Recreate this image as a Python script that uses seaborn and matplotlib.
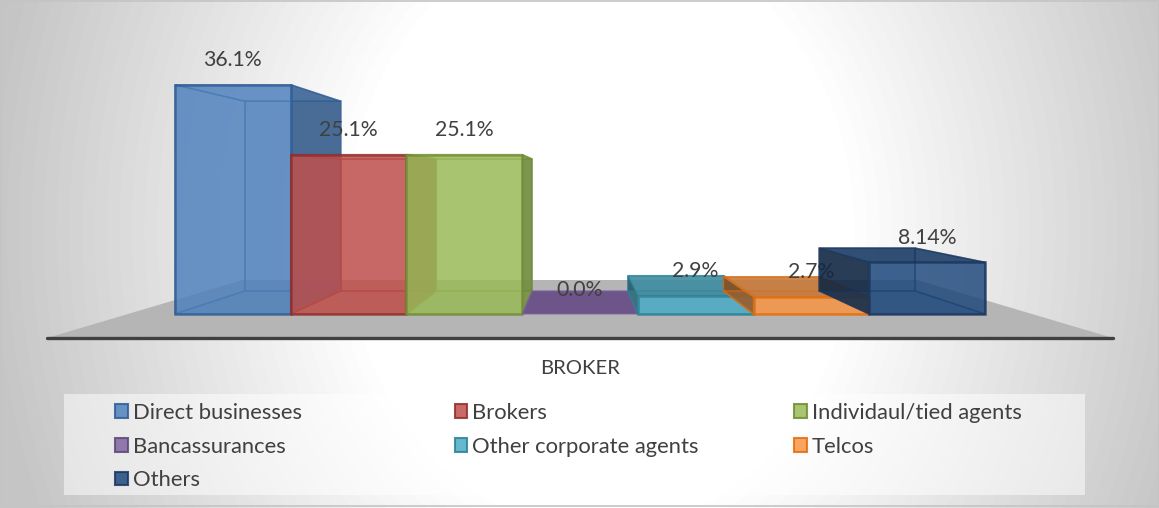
import numpy as np
import pandas as pd
import seaborn as sns
import matplotlib.pyplot as plt
from matplotlib.colors import to_rgb
from matplotlib.patches import Patch, Rectangle

channels = ['Direct businesses', 'Brokers', 'Individaul/tied agents', 'Bancassurances',
            'Other corporate agents', 'Telcos', 'Others']
shares = [36.1, 25.1, 25.1, 0.0, 2.9, 2.7, 8.14]
share_labels = ['36.1%', '25.1%', '25.1%', '0.0%', '2.9%', '2.7%', '8.14%']
axis_label = 'BROKER'

fills = ['#4f81bd', '#c0504d', '#9bbb59', '#8064a2', '#4bacc6', '#f79646', '#1f497d']
edges = ['#2f5c94', '#8f2e2b', '#6f8c33', '#5c4776', '#2a8096', '#e46c0a', '#1b365d']

W, H = 1159, 508
X_PX, Y_PX = 115.7, 6.35     # pixels per bar / per percent
X0_PX, Y0_PX = 175, 314      # where the first bar starts and the baseline sits
TEXT = '#404040'

sns.set_theme(style='white')
plt.rcParams['font.family'] = ['Lato', 'DejaVu Sans']

df = pd.DataFrame({'channel': channels, 'share': shares})

fig = plt.figure(figsize=(W / 100, H / 100), dpi=100)
ax = fig.add_axes([0, 0, 1, 1])

sns.barplot(data=df, x='channel', y='share', hue='channel', order=channels, hue_order=channels,
            palette=fills, saturation=1, width=1, dodge=False, legend=False, ax=ax)

xlim = (-0.5 - X0_PX / X_PX, -0.5 + (W - X0_PX) / X_PX)
ylim = ((Y0_PX - H) / Y_PX, Y0_PX / Y_PX)
ax.set_xlim(xlim)
ax.set_ylim(ylim)
ax.set_axis_off()

# background: white middle fading to grey at the sides
xx, yy = np.meshgrid(np.arange(W), np.arange(H))
d = np.sqrt(((xx - 600) / 590) ** 2 + ((yy - 230) / 700) ** 2)
shade = 255 - 58 * np.clip((d - 0.42) / 0.62, 0, 1)
ax.imshow(shade, cmap='gray', vmin=0, vmax=255, extent=(*xlim, *ylim), aspect='auto', zorder=0)

# perspective: everything shrinks towards one point behind the middle bar
VX, VY = 3.0, (Y0_PX - 180) / Y_PX
DEPTH = 0.8276


def back(x, y, s=DEPTH):
    return VX + s * (x - VX), VY + s * (y - VY)


def face(pts, col, edge, shade, alpha, zo):
    xs, ys = zip(*pts)
    rgb = tuple(c * shade for c in to_rgb(col))
    ax.fill(xs, ys, facecolor=rgb, edgecolor='none', alpha=alpha, zorder=zo)
    ax.fill(xs, ys, facecolor='none', edgecolor=edge, lw=1.1, alpha=0.6, zorder=zo)


# floor
fy = (Y0_PX - 338) / Y_PX
fl, fr = (47 - X0_PX) / X_PX - 0.5, (1113 - X0_PX) / X_PX - 0.5
floor_s = (338 - 180 - 58) / (338 - 180)
bl, br = back(fl, fy, floor_s), back(fr, fy, floor_s)
ax.fill([fl, fr, br[0], bl[0]], [fy, fy, br[1], bl[1]], color='#b5b5b5', lw=0, zorder=1)
ax.plot([fl, fr], [fy, fy], color='#404040', lw=2.4, solid_capstyle='round', zorder=2)

# bars, left to right so the later ones sit over the earlier ones
bars = [c[0] for c in ax.containers]
for i, (bar, value) in enumerate(zip(bars, shares)):
    z = 10 + i * 10
    x0, x1 = i - 0.5, i + 0.5
    ring = [(x0, 0), (x1, 0), (x1, value), (x0, value)]
    rear = [back(*p) for p in ring]
    col, edge = fills[i], edges[i]

    if value > 0:
        face(rear, col, edge, 1, 0.3, z)
        left = [ring[0], ring[3], rear[3], rear[0]]
        right = [ring[1], ring[2], rear[2], rear[1]]
        top = [ring[3], ring[2], rear[2], rear[3]]
        if i > 3:
            face(left, col, edge, 0.5, 0.85, z + 1)
        else:
            face(left, col, edge, 1, 0.2, z + 1)
        if i < 3:
            face(right, col, edge, 0.75, 0.9, z + 1)
        else:
            face(right, col, edge, 1, 0.2, z + 1)
        if value < VY:
            face(top, col, edge, 0.8, 0.85, z + 2)
        else:
            face(top, col, edge, 1, 0.2, z + 2)
        face([ring[0], ring[1], rear[1], rear[0]], col, edge, 0.85, 0.3, z + 1)
        bar.set_alpha(0.8)
        bar.set_edgecolor(edge)
        bar.set_linewidth(1.8)
        bar.set_zorder(z + 3)
    else:
        face([ring[0], ring[1], rear[1], rear[0]], col, col, 0.85, 1, z + 1)
        bar.set_visible(False)

    ax.text(i, value + 24.5 / Y_PX, share_labels[i], ha='center', va='center',
            fontsize=15.3, color=TEXT, zorder=z + 4)

ax.text(3, (Y0_PX - 368) / Y_PX, axis_label, ha='center', va='center', fontsize=14.6,
        color=TEXT, zorder=90)

# legend band and three columns placed by hand like the original
fig.add_artist(Rectangle((64 / W, 1 - 495 / H), 1021 / W, 101 / H, transform=fig.transFigure,
                         facecolor='white', edgecolor='none', alpha=0.5, zorder=3))
columns = {115: [0, 3, 6], 454.5: [1, 4], 794: [2, 5]}
for x_px, members in columns.items():
    handles = [Patch(facecolor=fills[i], edgecolor=edges[i], lw=1.5, alpha=0.85) for i in members]
    leg = fig.legend(handles, [channels[i] for i in members], loc='upper left',
                     bbox_to_anchor=(x_px / W, 1 - 403 / H), frameon=False, fontsize=15.8,
                     labelcolor=TEXT, handlelength=0.57, handleheight=0.57, handletextpad=0.25,
                     labelspacing=0.62, borderpad=0, borderaxespad=0)
    leg.set_zorder(5)

# chart border
fig.add_artist(Rectangle((0.5 / W, 1 - 506 / H), (W - 1) / W, 505 / H, transform=fig.transFigure,
                         facecolor='none', edgecolor='#c4c4c4', lw=1.2, zorder=6))

fig.savefig('out.png', dpi=100)
